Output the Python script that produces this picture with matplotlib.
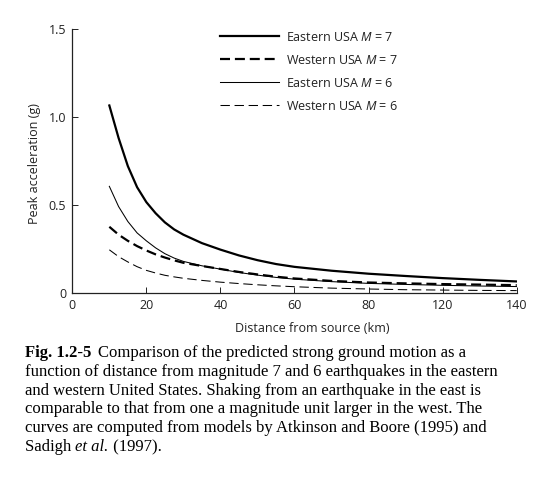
import matplotlib
matplotlib.use("Agg")
import matplotlib.pyplot as plt

plt.rcParams['font.family'] = ['Open Sans', 'DejaVu Sans']
plt.rcParams['mathtext.fontset'] = 'custom'
plt.rcParams['mathtext.it'] = 'Open Sans:italic'
plt.rcParams['mathtext.rm'] = 'Open Sans'

# position along the x axis (tick spacing as printed; labels below are the printed ones)
distance = [10, 12.5, 15, 17.5, 20, 22.5, 25, 27.5, 30, 35, 40, 45, 50, 55, 60,
            70, 80, 90, 100, 110, 120]

# peak acceleration (g)
east_m7 = [1.065, 0.88, 0.72, 0.60, 0.515, 0.452, 0.40, 0.36, 0.33, 0.282, 0.245, 0.212,
           0.185, 0.163, 0.147, 0.125, 0.108, 0.095, 0.083, 0.073, 0.064]
west_m7 = [0.375, 0.33, 0.295, 0.265, 0.24, 0.218, 0.20, 0.184, 0.17, 0.152, 0.135, 0.118,
           0.104, 0.091, 0.081, 0.067, 0.058, 0.053, 0.049, 0.046, 0.043]
east_m6 = [0.605, 0.49, 0.405, 0.34, 0.295, 0.255, 0.222, 0.197, 0.178, 0.153, 0.134, 0.115,
           0.100, 0.087, 0.077, 0.063, 0.053, 0.047, 0.042, 0.038, 0.035]
west_m6 = [0.244, 0.205, 0.175, 0.148, 0.127, 0.112, 0.099, 0.09, 0.082, 0.07, 0.06, 0.052,
           0.045, 0.039, 0.034, 0.026, 0.021, 0.017, 0.015, 0.013, 0.012]

labels = ["Eastern USA $M$ = 7", "Western USA $M$ = 7",
          "Eastern USA $M$ = 6", "Western USA $M$ = 6"]

xticks = [0, 20, 40, 60, 80, 100, 120]
xtick_labels = ["0", "20", "40", "60", "80", "120", "140"]
yticks = [0, 0.5, 1.0, 1.5]
ytick_labels = ["0", "0.5", "1.0", "1.5"]

caption_bold = "Fig. 1.2-5"
caption_lines = [
    "Comparison of the predicted strong ground motion as a",
    "function of distance from magnitude 7 and 6 earthquakes in the eastern",
    "and western United States. Shaking from an earthquake in the east is",
    "comparable to that from one a magnitude unit larger in the west. The",
    "curves are computed from models by Atkinson and Boore (1995) and",
]
caption_last = ["Sadigh ", "et al.", " (1997)."]

W, H = 547, 490
fig = plt.figure(figsize=(W / 100, H / 100), dpi=100)
ax = fig.add_axes([72.3 / W, 1 - 292.7 / H, 444.4 / W, 263.7 / H])

ax.plot(distance, east_m7, color='black', lw=1.6, label=labels[0])
ax.plot(distance, west_m7, color='black', lw=1.6, dashes=(4.5, 2.2), label=labels[1])
ax.plot(distance, east_m6, color='black', lw=0.75, label=labels[2])
ax.plot(distance, west_m6, color='black', lw=0.75, dashes=(9, 4.5), label=labels[3])

ax.set_xlim(0, 120)
ax.set_ylim(0, 1.5)
ax.set_xticks(xticks)
ax.set_xticklabels(xtick_labels)
ax.set_yticks(yticks)
ax.set_yticklabels(ytick_labels)
ax.tick_params(direction='in', length=4, width=0.7, labelsize=9, colors='#222222')
ax.tick_params(axis='x', pad=4.5)
ax.tick_params(axis='y', pad=4.5)
for s in ['top', 'right']:
    ax.spines[s].set_visible(False)
for s in ['left', 'bottom']:
    ax.spines[s].set_linewidth(0.9)
    ax.spines[s].set_color('#222222')

ax.set_xlabel("Distance from source (km)", fontsize=9, va='center', color='#222222')
ax.xaxis.set_label_coords(0.54, -0.135)
ax.set_ylabel("Peak acceleration (g)", fontsize=9, va='center', color='#222222')
ax.yaxis.set_label_coords(-0.084, 0.49)

leg = ax.legend(loc='upper left', bbox_to_anchor=(0.332, 0.994), frameon=False,
                fontsize=9, handlelength=4.74, handletextpad=0.56,
                labelspacing=0.8, borderpad=0, borderaxespad=0)
for t in leg.get_texts():
    t.set_color('#222222')

# caption
serif = 'Liberation Serif'
fs = 12
cx, cy0, dy = 25 / W, 1 - 353 / H, 18.8 / H
fig.canvas.draw()
r = fig.canvas.get_renderer()
t = fig.text(cx, cy0, caption_bold, family=serif, weight='bold', fontsize=fs, va='center')
bb = t.get_window_extent(r).transformed(fig.transFigure.inverted())
fig.text(bb.x1 + 7 / W, cy0, caption_lines[0], family=serif, fontsize=fs, va='center')
for i, line in enumerate(caption_lines[1:], start=1):
    fig.text(cx, cy0 - i * dy, line, family=serif, fontsize=fs, va='center')
x = cx
yl = cy0 - len(caption_lines) * dy
for j, part in enumerate(caption_last):
    t = fig.text(x, yl, part, family=serif, fontsize=fs, va='center',
                 style='italic' if j == 1 else 'normal')
    x = t.get_window_extent(r).transformed(fig.transFigure.inverted()).x1

fig.savefig("out.png", dpi=100)
